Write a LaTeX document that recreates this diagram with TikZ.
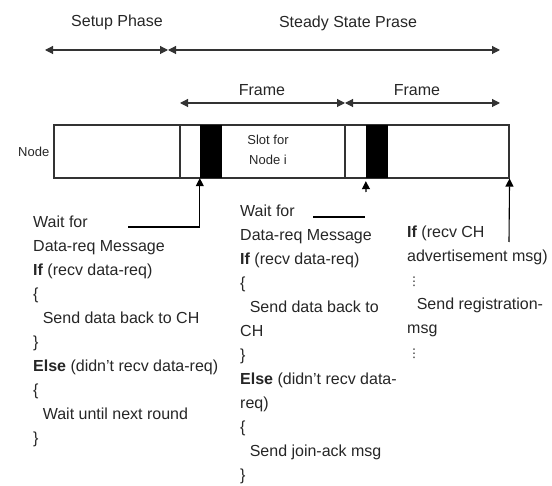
\documentclass[tikz,border=0pt]{standalone}
\usepackage{fontspec}
\setmainfont{Liberation Sans}
\newfontfamily\symfont{DejaVu Sans}
\usetikzlibrary{arrows.meta,positioning}

\tikzset{
  phase/.style={<->, line width=1.1pt, black!80},
  code/.style={align=left, anchor=north west, inner sep=0pt},
  bar/.style={draw, line width=1.1pt, black!80, minimum width=455pt, minimum height=53pt, inner sep=0pt},
  slot/.style={fill=black, minimum width=22pt, minimum height=53pt, inner sep=0pt},
  small/.style={font=\fontsize{13}{20}\selectfont, inner sep=0pt}
}
\newcommand{\dotsline}{\hspace*{0.05em}{\symfont\fontsize{12}{12}\selectfont ⋮}}

\begin{document}
\begin{tikzpicture}[x=1pt, y=-1pt, >={Triangle[length=8pt,width=8pt]},
  every node/.style={font=\fontsize{16}{24}\selectfont, text=black!85}]
\useasboundingbox (0,0) rectangle (552,486);

%% phases
\coordinate (p0) at (45,50);
\coordinate (p1) at (168,50);
\coordinate (p2) at (500,50);
\draw[phase] (p0) -- (p1);
\draw[phase] (p1) -- (p2);
\node (setup) at (117,22) {Setup Phase};
\node (steady) at (348,23) {Steady State Prase};

%% frames
\coordinate (f0) at (180,103);
\coordinate (f1) at (345,103);
\coordinate (f2) at (500,103);
\draw[phase] (f0) -- (f1);
\draw[phase] (f1) -- (f2);
\node (frame1) at (262,90) {Frame};
\node (frame2) at (417,90) {Frame};

%% time line of the node
\node[bar] (bar) at (281.5,151.5) {};
\draw[line width=1.1pt, black!80] (f0 |- bar.north) -- (f0 |- bar.south);
\draw[line width=1.1pt, black!80] (f1 |- bar.north) -- (f1 |- bar.south);
\node[slot] (s1) at (211,151.5) {};
\node[slot] (s2) at (377,151.5) {};
\node[small, left=4pt of bar] (nd) {Node};
\node[small, align=center] (slotlbl) at (268,150) {Slot for\\Node i};

%% pointers
\coordinate (w1) at (128,227);
\coordinate (w2) at (366,192);
\coordinate (w3) at (509,242);
\coordinate (u1) at (313,217);
\coordinate (u2) at (365,217);
\draw[->, line width=1.1pt] (w1) -| (s1.south west);
\draw[->, line width=1.1pt, shorten >=3pt] (w2) -- (s2.south west);
\draw[->, line width=1.1pt] (w3) -- (bar.south east);
\draw[line width=1.1pt] (u1) -- (u2);

%% what the node does
\node[code] (left) at (33,216) {Wait for\\
Data-req Message\\
\textbf{If} (recv data-req)\\
\{\\
\hspace*{0.6em}Send data back to CH\\
\}\\
\textbf{Else} (didn't recv data-req)\\
\{\\
\hspace*{0.6em}Wait until next round\\
\}};

\node[code] (mid) at (240,205) {Wait for\\
Data-req Message\\
\textbf{If} (recv data-req)\\
\{\\
\hspace*{0.6em}Send data back to\\
CH\\
\}\\
\textbf{Else} (didn't recv data-\\
req)\\
\{\\
\hspace*{0.6em}Send join-ack msg\\
\}};

\node[code] (right) at (407,226) {\textbf{If} (recv CH\\
advertisement msg)\\
\dotsline\\
\hspace*{0.6em}Send registration-\\
msg\\
\dotsline};

\end{tikzpicture}
\end{document}
